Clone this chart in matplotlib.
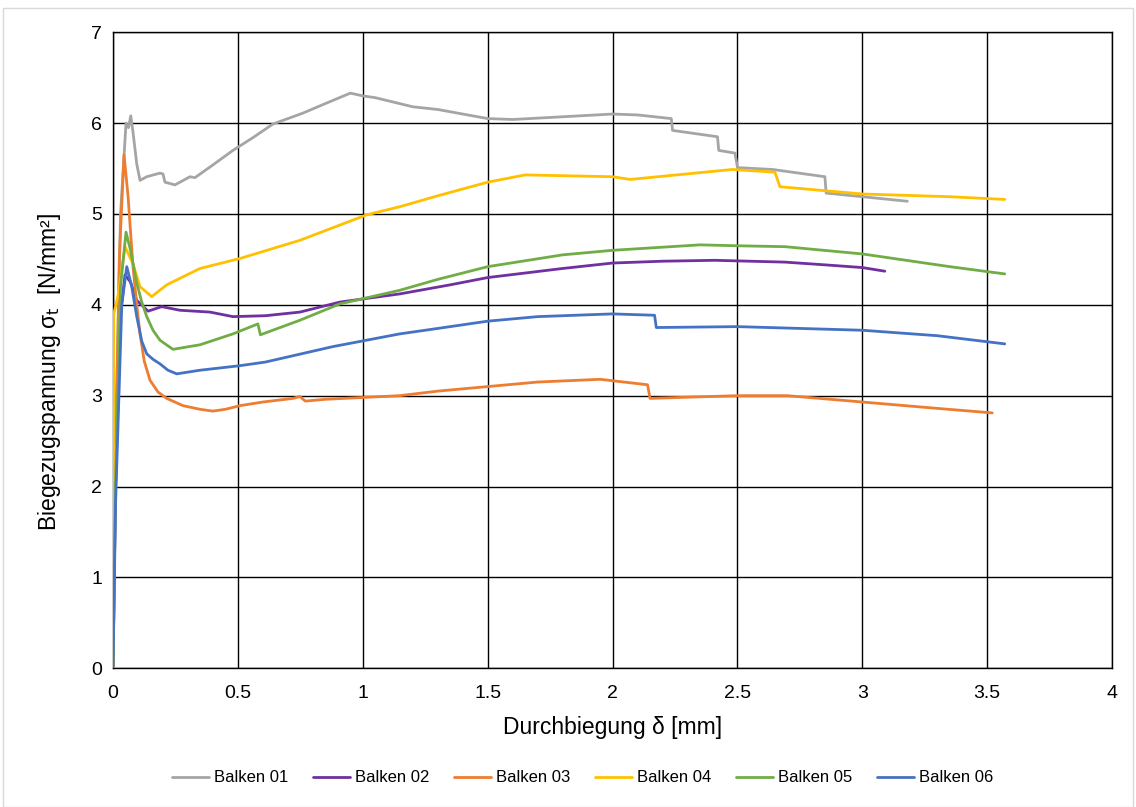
import matplotlib.pyplot as plt
from matplotlib.patches import Rectangle

# Durchbiegung [mm] / Biegezugspannung [N/mm²]
x01 = [0, 0.01, 0.03, 0.052, 0.062, 0.071, 0.08, 0.095, 0.108, 0.135, 0.188, 0.2, 0.208, 0.248,
       0.308, 0.328, 0.4, 0.48, 0.56, 0.64, 0.76, 0.88, 0.95, 1.0, 1.05, 1.2, 1.3, 1.4, 1.5,
       1.6, 1.8, 2.0, 2.1, 2.235, 2.24, 2.42, 2.425, 2.49, 2.5, 2.64, 2.85, 2.855, 3.0, 3.18]
y01 = [0, 2.5, 5.0, 6.0, 5.95, 6.08, 5.9, 5.55, 5.37, 5.41, 5.45, 5.44, 5.35, 5.32,
       5.41, 5.40, 5.54, 5.70, 5.84, 5.99, 6.11, 6.25, 6.33, 6.30, 6.28, 6.18, 6.15, 6.10, 6.05,
       6.04, 6.07, 6.10, 6.09, 6.05, 5.92, 5.85, 5.70, 5.67, 5.51, 5.49, 5.41, 5.23, 5.19, 5.14]

x02 = [0, 0.01, 0.03, 0.048, 0.07, 0.095, 0.14, 0.195, 0.268, 0.388, 0.48, 0.61, 0.748,
       0.908, 1.148, 1.35, 1.5, 1.8, 2.0, 2.2, 2.41, 2.69, 2.85, 3.0, 3.09]
y02 = [0, 2.0, 3.9, 4.33, 4.25, 4.05, 3.93, 3.98, 3.94, 3.92, 3.87, 3.88, 3.92,
       4.03, 4.12, 4.22, 4.30, 4.40, 4.46, 4.48, 4.49, 4.47, 4.44, 4.41, 4.37]

x03 = [0, 0.01, 0.025, 0.044, 0.06, 0.08, 0.095, 0.108, 0.125, 0.148, 0.18, 0.215, 0.28, 0.348,
       0.40, 0.45, 0.508, 0.6, 0.72, 0.748, 0.77, 0.85, 1.0, 1.148, 1.3, 1.5, 1.7, 1.95, 2.14,
       2.15, 2.5, 2.7, 3.0, 3.3, 3.52]
y03 = [0, 2.2, 4.5, 5.65, 5.2, 4.42, 4.0, 3.68, 3.38, 3.17, 3.04, 2.97, 2.89, 2.85,
       2.83, 2.85, 2.89, 2.93, 2.97, 2.99, 2.94, 2.96, 2.98, 3.0, 3.05, 3.10, 3.15, 3.18, 3.12,
       2.97, 3.0, 3.0, 2.93, 2.86, 2.81]

x04 = [0, 0.003, 0.02, 0.048, 0.08, 0.108, 0.155, 0.215, 0.348, 0.508, 0.748, 1.015, 1.148,
       1.3, 1.5, 1.65, 2.0, 2.07, 2.48, 2.65, 2.67, 3.0, 3.35, 3.57]
y04 = [0, 3.9, 4.1, 4.64, 4.45, 4.2, 4.09, 4.22, 4.40, 4.51, 4.71, 4.99, 5.08,
       5.20, 5.35, 5.43, 5.41, 5.38, 5.49, 5.46, 5.30, 5.22, 5.19, 5.16]

x05 = [0, 0.01, 0.03, 0.052, 0.07, 0.095, 0.115, 0.135, 0.16, 0.188, 0.24, 0.348, 0.48, 0.58,
       0.59, 0.748, 0.908, 1.148, 1.3, 1.5, 1.8, 2.0, 2.35, 2.5, 2.69, 3.0, 3.35, 3.57]
y05 = [0, 2.0, 4.2, 4.80, 4.6, 4.24, 4.03, 3.87, 3.72, 3.61, 3.51, 3.56, 3.68, 3.79,
       3.67, 3.83, 4.01, 4.16, 4.28, 4.42, 4.55, 4.60, 4.66, 4.65, 4.64, 4.56, 4.42, 4.34]

x06 = [0, 0.01, 0.035, 0.055, 0.075, 0.095, 0.115, 0.135, 0.16, 0.188, 0.22, 0.255, 0.348,
       0.508, 0.61, 0.88, 1.148, 1.3, 1.5, 1.7, 2.0, 2.168, 2.175, 2.5, 3.0, 3.3, 3.57]
y06 = [0, 1.8, 4.0, 4.42, 4.2, 3.87, 3.6, 3.46, 3.40, 3.35, 3.28, 3.24, 3.28,
       3.33, 3.37, 3.54, 3.68, 3.74, 3.82, 3.87, 3.90, 3.885, 3.75, 3.76, 3.72, 3.66, 3.57]

series = [("Balken 01", x01, y01, "#A5A5A5"),
          ("Balken 02", x02, y02, "#7030A0"),
          ("Balken 03", x03, y03, "#ED7D31"),
          ("Balken 04", x04, y04, "#FFC000"),
          ("Balken 05", x05, y05, "#70AD47"),
          ("Balken 06", x06, y06, "#4472C4")]

plt.rcParams['font.family'] = ['Liberation Sans', 'DejaVu Sans']

fig = plt.figure(figsize=(11.36, 8.07), dpi=100)
ax = fig.add_axes([0.0995, 0.172, 0.8795, 0.788])

for name, xs, ys, col in series:
    ax.plot(xs, ys, color=col, lw=2.0, label=name, zorder=3,
            solid_joinstyle="round", solid_capstyle="round")

ax.set_xlim(0, 4)
ax.set_ylim(0, 7)
ax.set_xticks([0, 0.5, 1, 1.5, 2, 2.5, 3, 3.5, 4])
ax.set_xticklabels(["0", "0.5", "1", "1.5", "2", "2.5", "3", "3.5", "4"])
ax.set_yticks(range(8))
ax.grid(True, color="black", lw=1.0)
ax.tick_params(axis="y", length=0, labelsize=14, pad=8)
ax.tick_params(axis="x", length=0, labelsize=14, pad=12)
for s in ax.spines.values():
    s.set_color("black")
    s.set_linewidth(1.0)

ax.set_xlabel("Durchbiegung δ [mm]", fontsize=16.5)
ax.set_ylabel(r"Biegezugspannung σ$_\mathrm{t}$  [N/mm²]", fontsize=16.5)
ax.xaxis.set_label_coords(0.5, -0.075)
ax.yaxis.set_label_coords(-0.05, 0.465)

leg = fig.legend(loc="center", bbox_to_anchor=(0.513, 0.036), ncol=6, frameon=False,
                 handlelength=2.2, columnspacing=1.5, handletextpad=0.3,
                 prop={'family': ['Liberation Sans'], 'size': 12})

fig.patches.append(Rectangle((0.003, 0.0), 0.994, 0.99, transform=fig.transFigure,
                             fill=False, edgecolor="#D9D9D9", lw=1.0))

fig.savefig("out.png", dpi=100)
